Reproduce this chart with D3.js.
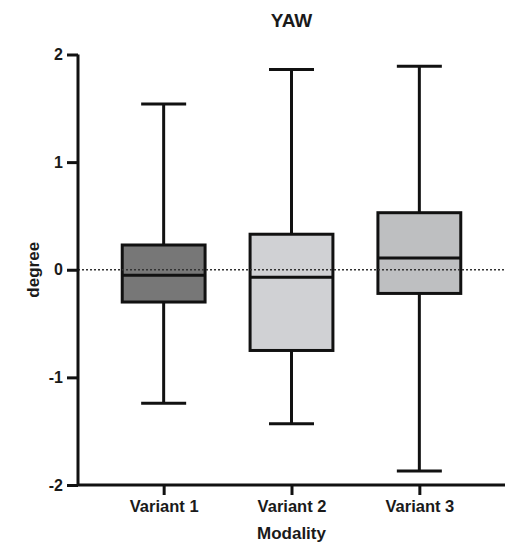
<!DOCTYPE html>
<html>
<head>
<meta charset="utf-8">
<script src="https://cdn.jsdelivr.net/npm/d3@7"></script>
<style>
  body { margin: 0; background: #fff; }
  svg text { font-family: "Liberation Sans", Arial, sans-serif; font-weight: bold; fill: #1a1a1a; }
</style>
</head>
<body>
<svg id="chart" width="513" height="544"></svg>
<script>
// box plot values (degree)
const categories = ["Variant 1", "Variant 2", "Variant 3"];
const whiskerLow = [-1.24, -1.43, -1.87];
const q1 = [-0.30, -0.75, -0.22];
const median = [-0.05, -0.07, 0.11];
const q3 = [0.23, 0.33, 0.53];
const whiskerHigh = [1.54, 1.86, 1.89];
const fills = ["#777777", "#d0d1d4", "#bebfc1"];
const yTicks = [-2, -1, 0, 1, 2];

const margin = {top: 54.5, right: 8, bottom: 59, left: 78};
const svg = d3.select('#chart');
const W = +svg.attr('width'), H = +svg.attr('height');
const width = W - margin.left - margin.right;
const height = H - margin.top - margin.bottom;

const x = d3.scalePoint().domain(categories).range([0, width]).padding(0.67);
const y = d3.scaleLinear().domain([-2, 2]).range([height, 0]);
const boxW = x.step() * 0.648;
const capW = 45;

const g = svg.append('g').attr('transform', `translate(${margin.left},${margin.top})`);

const data = categories.map(function(c, i){
	return {cat: c, lo: whiskerLow[i], q1: q1[i], med: median[i], q3: q3[i], hi: whiskerHigh[i], fill: fills[i]};
});

const box = g.selectAll('g.box').data(data).enter().append('g').attr('class', 'box')
	.attr('transform', function(d){ return `translate(${x(d.cat)},0)`; });

const stroke = '#111';
// whiskers
box.append('line').attr('x1', 0).attr('x2', 0)
	.attr('y1', function(d){ return y(d.hi); }).attr('y2', function(d){ return y(d.q3); })
	.attr('stroke', stroke).attr('stroke-width', 3);
box.append('line').attr('x1', 0).attr('x2', 0)
	.attr('y1', function(d){ return y(d.q1); }).attr('y2', function(d){ return y(d.lo); })
	.attr('stroke', stroke).attr('stroke-width', 3);
// caps
box.append('line').attr('x1', -capW/2).attr('x2', capW/2)
	.attr('y1', function(d){ return y(d.hi); }).attr('y2', function(d){ return y(d.hi); })
	.attr('stroke', stroke).attr('stroke-width', 3);
box.append('line').attr('x1', -capW/2).attr('x2', capW/2)
	.attr('y1', function(d){ return y(d.lo); }).attr('y2', function(d){ return y(d.lo); })
	.attr('stroke', stroke).attr('stroke-width', 3);
// box
box.append('rect').attr('x', -boxW/2).attr('width', boxW)
	.attr('y', function(d){ return y(d.q3); })
	.attr('height', function(d){ return y(d.q1) - y(d.q3); })
	.attr('fill', function(d){ return d.fill; })
	.attr('stroke', stroke).attr('stroke-width', 3);
// median
box.append('line').attr('x1', -boxW/2).attr('x2', boxW/2)
	.attr('y1', function(d){ return y(d.med); }).attr('y2', function(d){ return y(d.med); })
	.attr('stroke', stroke).attr('stroke-width', 3);

// zero reference line (dotted, over the boxes)
g.append('line').attr('x1', 0).attr('x2', width)
	.attr('y1', y(0)).attr('y2', y(0))
	.attr('stroke', '#333').attr('stroke-width', 1.5).attr('stroke-dasharray', '2,2');

// axes
const yAxis = d3.axisLeft(y).tickValues(yTicks).tickFormat(function(d){ return String(d); }).tickSize(11).tickPadding(4);
const yG = g.append('g').call(yAxis);
const xAxis = d3.axisBottom(x).tickSize(10).tickPadding(5);
const xG = g.append('g').attr('transform', `translate(0,${height})`).call(xAxis);

[yG, xG].forEach(function(ax){
	ax.select('.domain').attr('stroke', stroke).attr('stroke-width', 3);
	ax.selectAll('.tick line').attr('stroke', stroke).attr('stroke-width', 3);
	ax.selectAll('.tick text').attr('fill', '#1a1a1a')
		.attr('font-family', '"Liberation Sans", Arial, sans-serif').attr('font-weight', 'bold');
});
yG.selectAll('.tick text').attr('font-size', 16);
xG.selectAll('.tick text').attr('font-size', 16.5);
yG.select('.domain').attr('d', `M0,${height}V0`);
xG.select('.domain').attr('d', `M0,0H${width}`);

// title + axis titles
svg.append('text').attr('x', margin.left + width/2).attr('y', 27)
	.attr('text-anchor', 'middle').attr('font-size', 19).text('YAW');
svg.append('text').attr('transform', `translate(39,${margin.top + y(0)}) rotate(-90)`)
	.attr('text-anchor', 'middle').attr('font-size', 17).text('degree');
svg.append('text').attr('x', margin.left + width/2).attr('y', 539)
	.attr('text-anchor', 'middle').attr('font-size', 17).text('Modality');
</script>
</body>
</html>
